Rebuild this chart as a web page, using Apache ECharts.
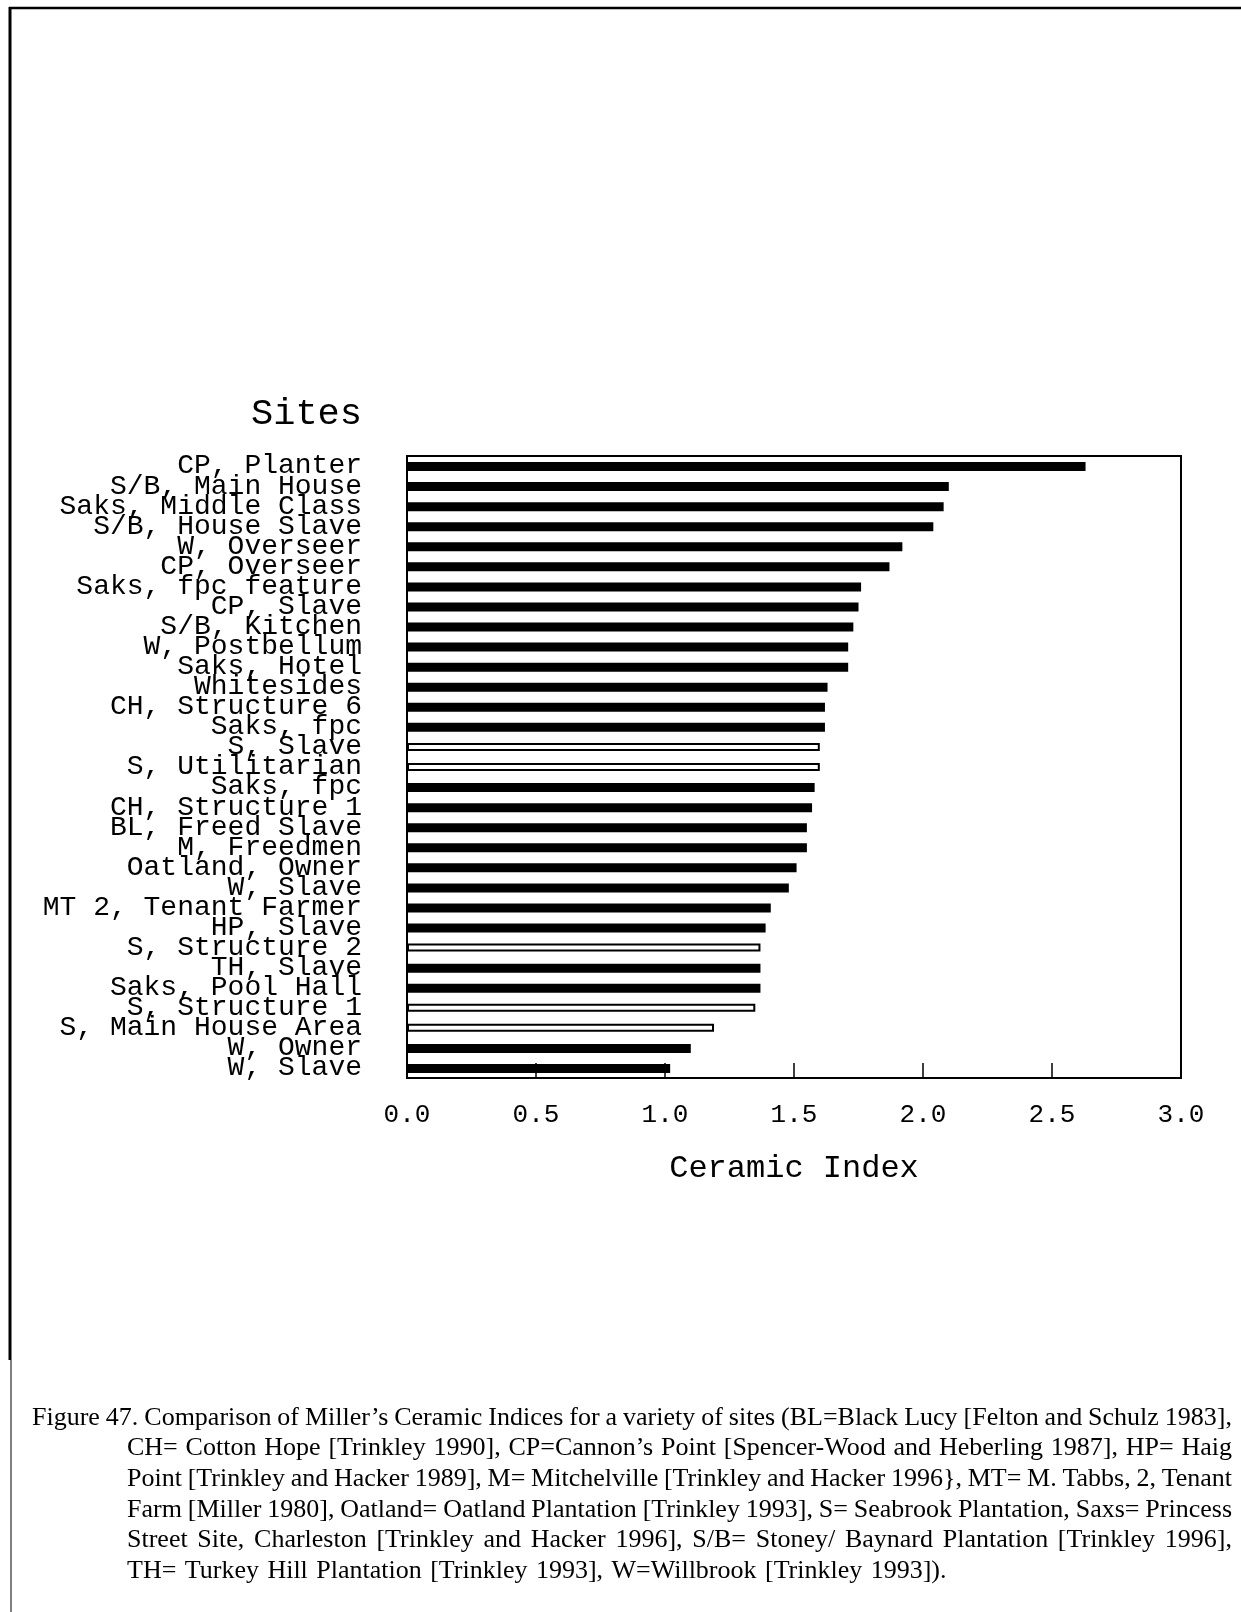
<!DOCTYPE html>
<html>
<head>
<meta charset="utf-8">
<script src="https://cdn.jsdelivr.net/npm/echarts@6/dist/echarts.min.js"></script>
<style>
  html, body { margin: 0; padding: 0; background: #fff; }
  #chart { width: 1241px; height: 1612px; }
</style>
</head>
<body>
<div id="chart"></div>
<script>
// Sites, top to bottom, ranked by Miller's ceramic index
const sites = [
  'CP, Planter', 'S/B, Main House', 'Saks, Middle Class', 'S/B, House Slave',
  'W, Overseer', 'CP, Overseer', 'Saks, fpc feature', 'CP, Slave',
  'S/B, Kitchen', 'W, Postbellum', 'Saks, Hotel', 'Whitesides',
  'CH, Structure 6', 'Saks, fpc', 'S, Slave', 'S, Utilitarian',
  'Saks, fpc', 'CH, Structure 1', 'BL, Freed Slave', 'M, Freedmen',
  'Oatland, Owner', 'W, Slave', 'MT 2, Tenant Farmer', 'HP, Slave',
  'S, Structure 2', 'TH, Slave', 'Saks, Pool Hall', 'S, Structure 1',
  'S, Main House Area', 'W, Owner', 'W, Slave'
];

const ceramicIndex = [
  2.63, 2.10, 2.08, 2.04,
  1.92, 1.87, 1.76, 1.75,
  1.73, 1.71, 1.71, 1.63,
  1.62, 1.62, 1.60, 1.60,
  1.58, 1.57, 1.55, 1.55,
  1.51, 1.48, 1.41, 1.39,
  1.37, 1.37, 1.37, 1.35,
  1.19, 1.10, 1.02
];

// Seabrook Plantation assemblages are drawn as open bars
const outlinedSites = ['S, Slave', 'S, Utilitarian', 'S, Structure 2', 'S, Structure 1', 'S, Main House Area'];

const xTicks = { min: 0, max: 3, step: 0.5 };

const captionLines = [
  'Figure 47. Comparison of Miller\u2019s Ceramic Indices for a variety of sites (BL=Black Lucy [Felton and Schulz 1983],',
  'CH= Cotton Hope [Trinkley 1990], CP=Cannon\u2019s Point [Spencer-Wood and Heberling 1987], HP= Haig',
  'Point [Trinkley and Hacker 1989], M= Mitchelville [Trinkley and Hacker 1996}, MT= M. Tabbs, 2, Tenant',
  'Farm [Miller 1980], Oatland= Oatland Plantation [Trinkley 1993], S= Seabrook Plantation, Saxs= Princess',
  'Street Site, Charleston [Trinkley and Hacker 1996], S/B= Stoney/ Baynard Plantation [Trinkley 1996],',
  'TH= Turkey Hill Plantation [Trinkley 1993], W=Willbrook [Trinkley 1993]).'
];

const isOutlined = (i) => outlinedSites.indexOf(sites[i]) !== -1;
const solidData = ceramicIndex.map((v, i) => (isOutlined(i) ? '-' : v));
const outlinedData = ceramicIndex.map((v, i) => (isOutlined(i) ? v : '-'));

const MONO = '"Liberation Mono", "DejaVu Sans Mono", monospace';
const SERIF_FONT = '26px "Liberation Serif", "DejaVu Serif", serif';

// Justified caption: words share one horizontal squeeze, leftover space goes to the gaps
function buildCaption() {
  const ctx = document.createElement('canvas').getContext('2d');
  ctx.font = SERIF_FONT;
  const rightEdge = 1232;
  const firstX = 32, indentX = 127;
  const lineY0 = 1418, lineStep = 30.6;
  const fullSpace = ctx.measureText(' ').width;
  const space = fullSpace * 0.5;
  const lines = captionLines.map((t, k) => {
    const words = t.split(/\s+/);
    const widths = words.map(w => ctx.measureText(w).width);
    const left = k === 0 ? firstX : indentX;
    return { words, widths, left, target: rightEdge - left };
  });
  let squeeze = 1;
  lines.slice(0, lines.length - 1).forEach(l => {
    const natural = l.widths.reduce((a, b) => a + b, 0) + space * (l.words.length - 1);
    squeeze = Math.min(squeeze, l.target / natural);
  });
  const els = [];
  lines.forEach((l, k) => {
    const sumW = l.widths.reduce((a, b) => a + b, 0) * squeeze;
    const last = k === lines.length - 1;
    const gap = last ? fullSpace * 1.3 : (l.target - sumW) / (l.words.length - 1);
    let x = l.left;
    l.words.forEach((w, j) => {
      els.push({
        type: 'text',
        x: x,
        y: lineY0 + k * lineStep,
        scaleX: squeeze,
        silent: true,
        style: { text: w, font: SERIF_FONT, fill: '#000', textVerticalAlign: 'middle' }
      });
      x += l.widths[j] * squeeze + gap;
    });
  });
  return els;
}

const chart = echarts.init(document.getElementById('chart'), null, { renderer: 'canvas' });

const option = {
  backgroundColor: '#fff',
  animation: false,
  title: {
    text: 'Sites',
    right: 874,
    top: 391,
    textStyle: { fontFamily: MONO, fontSize: 37, fontWeight: 'normal', color: '#000' }
  },
  grid: {
    left: 407,
    right: 60,
    top: 456,
    bottom: 534,
    show: true,
    borderColor: '#000',
    borderWidth: 2,
    backgroundColor: 'transparent'
  },
  xAxis: {
    type: 'value',
    min: xTicks.min,
    max: xTicks.max,
    interval: xTicks.step,
    name: 'Ceramic Index',
    nameLocation: 'middle',
    nameGap: 75,
    nameTextStyle: { fontFamily: MONO, fontSize: 32, color: '#000' },
    axisLine: { show: true, lineStyle: { color: '#000', width: 2 } },
    axisTick: { show: true, inside: true, length: 15, lineStyle: { color: '#000', width: 1.5 } },
    axisLabel: {
      margin: 24,
      fontFamily: MONO,
      fontSize: 26,
      color: '#000',
      formatter: (v) => v.toFixed(1)
    },
    splitLine: { show: false }
  },
  yAxis: {
    type: 'category',
    data: sites,
    inverse: true,
    axisLine: { show: true, lineStyle: { color: '#000', width: 2 } },
    axisTick: { show: false },
    axisLabel: {
      interval: 0,
      margin: 45,
      fontFamily: MONO,
      fontSize: 28,
      color: '#000',
      lineHeight: 28,
      padding: [6, 0, 0, 0]
    },
    splitLine: { show: false }
  },
  series: [
    {
      name: 'Ceramic index',
      type: 'bar',
      data: solidData,
      barWidth: 9,
      barGap: '-100%',
      itemStyle: { color: '#000' }
    },
    {
      name: 'Ceramic index (Seabrook)',
      type: 'bar',
      data: outlinedData,
      barWidth: 8,
      barGap: '-100%',
      itemStyle: { color: '#fff', borderColor: '#000', borderWidth: 2 }
    }
  ],
  graphic: {
    elements: [
      // page frame: rule across the top and down the left margin
      { type: 'line', silent: true, shape: { x1: 9, y1: 8, x2: 1241, y2: 8 }, style: { stroke: '#000', lineWidth: 2.5 } },
      { type: 'line', silent: true, shape: { x1: 10, y1: 7, x2: 10, y2: 1360 }, style: { stroke: '#000', lineWidth: 3 } },
      { type: 'line', silent: true, shape: { x1: 11, y1: 1360, x2: 11, y2: 1612 }, style: { stroke: '#555', lineWidth: 1.5 } }
    ].concat(buildCaption())
  }
};

chart.setOption(option);
</script>
</body>
</html>
